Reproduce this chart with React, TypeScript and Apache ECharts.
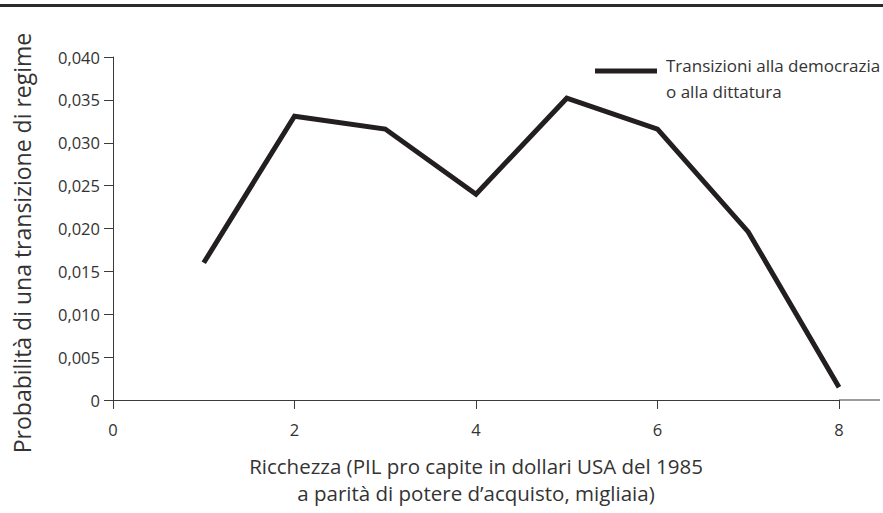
import React, { useEffect, useRef } from "react";
import * as echarts from "echarts";

const wealth: number[] = [1, 2, 3, 4, 5, 6, 7, 8];
const transitionProb: number[] = [0.0160, 0.0331, 0.0316, 0.0240, 0.0352, 0.0316, 0.0196, 0.0015];
const seriesName = "Transizioni alla democrazia\no alla dittatura";
const xTitle = "Ricchezza (PIL pro capite in dollari USA del 1985\na parità di potere d’acquisto, migliaia)";
const yTitle = "Probabilità di una transizione di regime";

const FONT = "'Open Sans', 'Noto Sans', sans-serif";
const INK = "#231f20";
const AXIS = "#3a3a3a";

export default function App() {
  const ref = useRef<HTMLDivElement>(null);
  useEffect(() => {
    document.body.style.margin = "0";
    if (!ref.current) return;
    const chart = echarts.init(ref.current, undefined, { renderer: "svg" });
    chart.setOption({
      animation: false,
      backgroundColor: "#ffffff",
      textStyle: { fontFamily: FONT },
      grid: { left: 113, right: 44, top: 57, bottom: 113 },
      xAxis: {
        type: "value",
        min: 0,
        max: 8,
        interval: 2,
        name: xTitle,
        nameLocation: "middle",
        nameGap: 52,
        nameTextStyle: { fontFamily: FONT, fontSize: 20.5, color: "#333", lineHeight: 27 },
        axisLine: {
          show: true,
          lineStyle: { color: AXIS, width: 1 },
          symbol: ["none", "rect"],
          symbolSize: [1, 41],
          symbolOffset: [0, 20.5],
        },
        axisTick: { show: true, length: 9, inside: false, lineStyle: { color: AXIS } },
        axisLabel: { margin: 21, fontSize: 16.5, color: "#333", fontFamily: FONT },
        splitLine: { show: false },
      },
      yAxis: {
        type: "value",
        min: 0,
        max: 0.04,
        interval: 0.005,
        axisLine: { show: true, lineStyle: { color: AXIS, width: 1 } },
        axisTick: { show: true, length: 9, lineStyle: { color: AXIS } },
        axisLabel: {
          margin: 13,
          fontSize: 16.5,
          color: "#333",
          fontFamily: FONT,
          formatter: (v: number) => (v === 0 ? "0" : v.toFixed(3).replace(".", ",")),
        },
        splitLine: { show: false },
      },
      series: [
        {
          type: "line",
          name: seriesName,
          data: wealth.map((w, i) => [w, transitionProb[i]]),
          showSymbol: false,
          symbol: "none",
          lineStyle: { color: INK, width: 5, join: "miter", cap: "butt" },
        },
      ],
      graphic: [
        {
          type: "line",
          shape: { x1: 0, y1: 5.5, x2: 883, y2: 5.5 },
          style: { stroke: "#2b2b2b", lineWidth: 3 },
        },
        {
          type: "text",
          x: 22,
          y: 243,
          rotation: Math.PI / 2,
          style: {
            text: yTitle,
            fontFamily: FONT,
            fontSize: 23,
            fill: "#333",
            align: "center",
            verticalAlign: "middle",
          },
        },
        {
          type: "line",
          shape: { x1: 595, y1: 71, x2: 657, y2: 71 },
          style: { stroke: INK, lineWidth: 5 },
        },
        {
          type: "text",
          x: 666,
          y: 52,
          style: {
            text: seriesName,
            fontFamily: FONT,
            fontSize: 17,
            lineHeight: 26,
            fill: "#333",
            align: "left",
            verticalAlign: "top",
          },
        },
      ],
    });
    return () => chart.dispose();
  }, []);
  return <div ref={ref} style={{ width: 883, height: 513 }} />;
}
